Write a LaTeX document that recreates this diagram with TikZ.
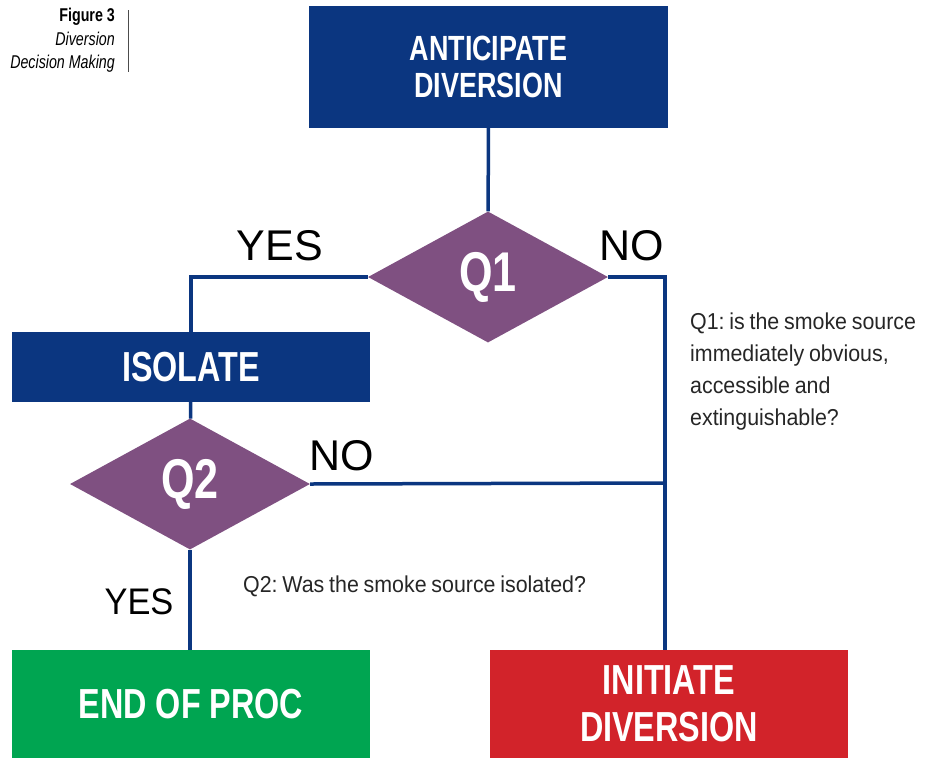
\documentclass[tikz,border=0pt]{standalone}
\usepackage{fontspec}
\setmainfont{Liberation Sans}
\newfontfamily\condbf{Liberation Sans}[FakeStretch=0.77]
\newfontfamily\condrm{Liberation Sans}[FakeStretch=0.93, WordSpace=0.8]
\usetikzlibrary{shapes.geometric}
\definecolor{navy}{RGB}{11,54,128}
\definecolor{plum}{RGB}{127,80,129}
\definecolor{leaf}{RGB}{0,165,81}
\definecolor{brick}{RGB}{210,35,42}
\frenchspacing
\tikzset{
  flowbox/.style={draw=none, text=white, align=center, inner sep=0pt,
    minimum width=358pt, font=\condbf\bfseries\fontsize{42}{47}\selectfont},
  question/.style={diamond, fill=plum, text=white, inner sep=0pt, aspect=1.8,
    minimum width=240pt, minimum height=131pt,
    font=\condbf\bfseries\fontsize{56}{60}\selectfont},
  flowline/.style={draw=navy, line width=3.5pt},
  answer/.style={font=\fontsize{43}{45}\selectfont, inner sep=0pt},
  note/.style={font=\condrm\fontsize{23}{32}\selectfont, text=black!85, inner sep=0pt, align=left}
}

\begin{document}
\begin{tikzpicture}[x=1pt, y=-1pt]
  \useasboundingbox (0,0) rectangle (936,758);
  % caption
  \node (caption) [anchor=north east, align=right, inner sep=0pt, font=\condbf\fontsize{18.5}{23.5}\selectfont] at (115,8)
    {{\bfseries Figure 3}\\ \itshape Diversion\\ \itshape Decision Making};
  \draw[black!70, line width=0.8pt] (128,10) -- (128,72);
  % boxes
  \node (ant) [flowbox, fill=navy, minimum width=359pt, minimum height=122pt, font=\condbf\bfseries\fontsize{35}{37}\selectfont] at (488.5,67) {ANTICIPATE\\DIVERSION};
  \node (q1) [question] at (488,277) {Q1};
  \node (iso) [flowbox, fill=navy, minimum height=70pt] at (191,367) {ISOLATE};
  \node (q2) [question] at (190,484) {Q2};
  \node (end) [flowbox, fill=leaf, minimum height=108pt] at (191,704) {END OF PROC};
  \node (init) [flowbox, fill=brick, minimum height=108pt] at (669,704) {INITIATE\\DIVERSION};
  \coordinate (nojoin) at (665,483);
  % connectors
  \draw[flowline] (ant) -- (q1);
  \draw[flowline] (q1.west) -| (iso.north);
  \draw[flowline] (q1.east) -| (nojoin) -- (nojoin |- init.north);
  \draw[flowline] (iso) -- (q2);
  \draw[flowline] (q2.east) -- (nojoin);
  \draw[flowline] (q2.south) -- (q2.south |- end.north);
  % answers
  \node (yes1) [answer] at (280,246) {YES};
  \node (no1) [answer] at (632,246) {NO};
  \node (no2) [answer] at (342,456) {NO};
  \node (yes2) [answer, font=\condrm\fontsize{37}{40}\selectfont] at (139,602) {YES};
  % notes
  \node (note1) [note, anchor=north west] at (690,313)
    {Q1: is the smoke source\\immediately obvious,\\accessible and\\extinguishable?};
  \node (note2) [note, anchor=base west] at (243,592) {Q2: Was the smoke source isolated?};
\end{tikzpicture}
\end{document}
